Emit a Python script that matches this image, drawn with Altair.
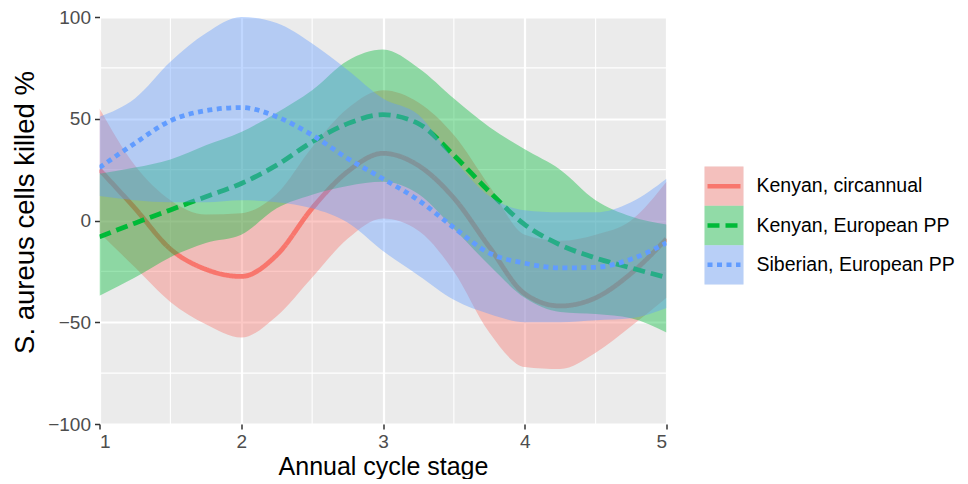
import altair as alt
import pandas as pd

# ---- data ----
stage = [1, 1.25, 1.5, 1.75, 2, 2.25, 2.5, 2.75, 3, 3.25, 3.5, 3.75, 4, 4.25, 4.5, 4.75, 5]

series_names = ["Kenyan, circannual", "Kenyan, European PP", "Siberian, European PP"]
series_colors = ["#F8766D", "#00BA38", "#619CFF"]
series_dashes = [[1, 0], [12, 6], [5, 4.5]]

red_fit = [25, 6, -14, -24, -27.5, -17, 6, 24, 33, 27, 11, -13, -36, -42, -38, -26, -9]
red_lo = [-6, -23, -40, -51, -57.5, -47, -28, -9, 1, -5, -25, -55, -72, -73, -65, -52, -38]
red_hi = [55, 27, 10, 3, 3.6, 13, 36, 55, 64, 58, 42, 17, -7, -10, -7, 0, 19]

green_fit = [-8, -1.3, 5.2, 11.7, 18.2, 27.2, 38.6, 47.6, 52, 47.6, 32, 14.2, -2, -12, -18.4, -23.3, -28]
green_lo = [-37, -28, -18, -11, -7, 6, 12.7, 17, 19, 13, -4, -22, -38, -45, -46, -48, -55]
green_hi = [23, 26, 30, 37, 43.5, 53, 64, 78.5, 84, 75, 60, 46, 35, 25, 10, 2, -2]

blue_fit = [26, 38, 49, 54, 55.5, 51, 42, 30.5, 20.5, 10, -3.5, -16, -21, -23.3, -23, -19, -11]
blue_lo = [12, 10, 9, 9, 10, 9, 6, -1, -15, -27, -39, -46, -50, -50, -49, -48, -43]
blue_hi = [51, 60, 78, 92, 100, 97, 87, 74, 60, 52, 30, 12, 5, 4, 4, 9, 20.5]

x_ticks = [1, 2, 3, 4, 5]
y_ticks = [-100, -50, 0, 50, 100]
x_minor = [1.5, 2.5, 3.5, 4.5]
y_minor = [-75, -25, 25, 75]

# ---- tables ----
rows = []
for name, fit, lo, hi in zip(series_names,
                             [red_fit, green_fit, blue_fit],
                             [red_lo, green_lo, blue_lo],
                             [red_hi, green_hi, blue_hi]):
    for s, f, l, h in zip(stage, fit, lo, hi):
        rows.append({"stage": s, "series": name, "fit": f, "lo": l, "hi": h})
df = pd.DataFrame(rows)
minor_x_df = pd.DataFrame({"v": x_minor})
minor_y_df = pd.DataFrame({"v": y_minor})
leg_df = pd.DataFrame({"series": series_names})

FONT = "Liberation Sans"

color_scale = alt.Scale(domain=series_names, range=series_colors)
dash_scale = alt.Scale(domain=series_names, range=series_dashes)
x_scale = alt.Scale(domain=[1, 5], nice=False, zero=False)
y_scale = alt.Scale(domain=[-100, 100], nice=False, zero=False)

x_axis = alt.Axis(values=x_ticks, format="d", title="Annual cycle stage",
                  grid=True, gridColor="white", gridWidth=2.2, domain=False,
                  tickColor="#333333", tickWidth=1.5, tickSize=5,
                  labelFont=FONT, labelFontSize=19, labelColor="#4D4D4D", labelPadding=3,
                  titleFont=FONT, titleFontSize=25, titleFontWeight="normal",
                  titleColor="black", titlePadding=3)
y_axis = alt.Axis(values=y_ticks, title="S. aureus cells killed %",
                  grid=True, gridColor="white", gridWidth=2.2, domain=False,
                  tickColor="#333333", tickWidth=1.5, tickSize=5,
                  labelFont=FONT, labelFontSize=19, labelColor="#4D4D4D", labelPadding=4,
                  titleFont=FONT, titleFontSize=27.5, titleFontWeight="normal",
                  titleColor="black", titlePadding=8, titleY=195)

X = alt.X("stage:Q", scale=x_scale, axis=x_axis)
color_enc = alt.Color("series:N", scale=color_scale, legend=None)
dash_enc = alt.StrokeDash("series:N", scale=dash_scale, legend=None)

minor_v = alt.Chart(minor_x_df).mark_rule(color="white", strokeWidth=1.1).encode(
    x=alt.X("v:Q", scale=x_scale, axis=x_axis))
minor_h = alt.Chart(minor_y_df).mark_rule(color="white", strokeWidth=1.1).encode(
    y=alt.Y("v:Q", scale=y_scale, axis=y_axis))

layers = [minor_v, minor_h]
for name in series_names:
    sub = alt.Chart(df).transform_filter(alt.datum.series == name)
    area = sub.mark_area(opacity=0.4, interpolate="monotone", clip=True).encode(
        x=X,
        y=alt.Y("lo:Q", scale=y_scale, axis=y_axis),
        y2="hi:Q",
        color=color_enc,
    )
    line = sub.mark_line(interpolate="monotone", strokeWidth=4.8, strokeCap="butt", clip=True).encode(
        x=X,
        y=alt.Y("fit:Q", scale=y_scale, axis=y_axis),
        color=color_enc,
        strokeDash=dash_enc,
    )
    layers += [area, line]

main = alt.layer(*layers).properties(
    width=567, height=407,
    view=alt.ViewBackground(fill="#EBEBEB", stroke=None),
)

# ---- legend drawn as its own small chart ----
def leg_y(center=False):
    kw = {"bandPosition": 0.5} if center else {}
    return alt.Y("series:N", sort=series_names,
                 scale=alt.Scale(domain=series_names, range=[149.5, 267.5],
                                 paddingInner=0, paddingOuter=0),
                 axis=None, **kw)

leg_bg = alt.Chart(leg_df).mark_rect(color="#F2F2F2").encode(
    y=leg_y(), x=alt.value(0), x2=alt.value(39))
leg_key = alt.Chart(leg_df).mark_rect(opacity=0.4).encode(
    y=leg_y(), x=alt.value(0), x2=alt.value(39), color=color_enc)
leg_line = alt.Chart(leg_df).mark_rule(strokeWidth=4.5, strokeCap="butt").encode(
    y=leg_y(True), x=alt.value(3), x2=alt.value(36), color=color_enc, strokeDash=dash_enc)
leg_text = alt.Chart(leg_df).mark_text(align="left", baseline="middle", font=FONT,
                                       fontSize=19.5, color="black").encode(
    y=leg_y(True), x=alt.value(52), text="series:N")

legend = alt.layer(leg_bg, leg_key, leg_line, leg_text).properties(
    width=220, height=407,
    view=alt.ViewBackground(stroke=None),
)

chart = alt.hconcat(main, legend, spacing=38, bounds="flush").properties(
    padding={"left": 3.5, "top": 0, "right": 0, "bottom": 0},
).configure_view(stroke=None).configure(background="white")

chart.save("out.html", embed_options={"renderer": "svg", "actions": False})
